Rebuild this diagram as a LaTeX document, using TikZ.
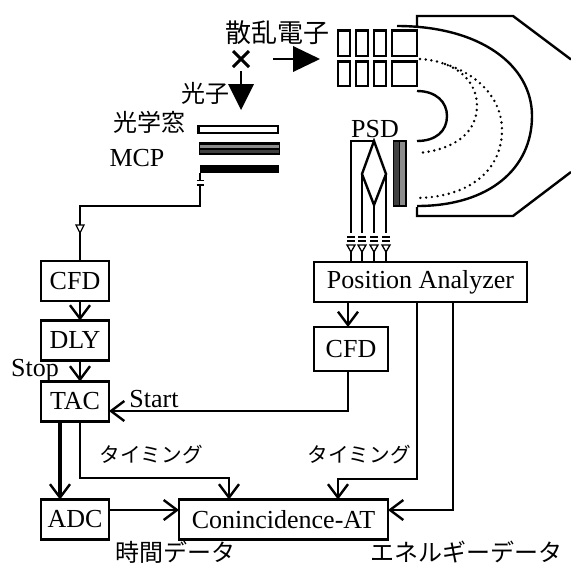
\documentclass[tikz,border=0pt]{standalone}
\usepackage{fontspec}
\setmainfont{Liberation Serif}
\newfontfamily\jpfont{Noto Sans CJK JP}
\usetikzlibrary{arrows.meta}
\definecolor{mcpgray}{gray}{0.55}
\definecolor{mcpdark}{gray}{0.25}
\tikzset{
  wire/.style={line width=1.8pt},
  flow/.style={line width=1.8pt,-{Straight Barb[length=10pt,width=15pt,line width=1.8pt]}},
  box/.style={draw,line width=1.9pt,inner sep=0pt,outer sep=0pt,font=\fontsize{19.5}{20}\selectfont},
  lab/.style={inner sep=0pt,font=\fontsize{19.5}{20}\selectfont},
  jp/.style={inner sep=0pt,font=\jpfont\fontsize{18}{20}\selectfont},
  jpb/.style={inner sep=0pt,font=\jpfont\fontsize{15.5}{18}\selectfont},
  grid cell/.style={draw,line width=1.9pt},
  pulse/.style={draw,line width=1pt,fill=white},
  dots/.style={line width=2pt,line cap=round,dash pattern=on 0pt off 4.3pt}
}
\begin{document}
\begin{tikzpicture}[x=0.75pt,y=-0.75pt]
\useasboundingbox (0,0) rectangle (571,565);
% boxes
\node[box,minimum width=51pt,minimum height=30pt] (cfdA) at (75,281) {CFD};
\node[box,minimum width=51pt,minimum height=30pt] (dly) at (75,340.5) {DLY};
\node[box,minimum width=51pt,minimum height=30pt] (tac) at (75,401.5) {TAC};
\node[box,minimum width=51pt,minimum height=30pt] (adc) at (75,519.5) {ADC};
\node[box,minimum width=156.75pt,minimum height=30pt] (coin) at (283.5,519.5) {Conincidence-AT};
\node[box,minimum width=159.75pt,minimum height=30pt] (pa) at (420.5,282) {Position Analyzer};
\node[box,minimum width=55.5pt,minimum height=33pt] (cfdB) at (351,349) {CFD};
% labels
\node[jp] (l1) at (277,33) {\fontsize{19.5}{20}\selectfont 散乱電子};
\node[jp] (l2) at (205,93) {光子};
\node[jp] (l3) at (149,122) {光学窓};
\node[lab] (l4) at (137,158) {MCP};
\node[lab] (l5) at (375,129) {PSD};
\node[lab] (l6) at (35,371) {Stop};
\node[lab] (l7) at (154,399) {Start};
\node[jpb] (l8) at (151,455) {タイミング};
\node[jpb] (l9) at (359,455) {タイミング};
\node[jp] (l10) at (175,552) {時間データ};
\node[jp] (l11) at (466,552) {エネルギーデータ};
% cross and particle arrows
\draw[line width=2.2pt] (233,51) -- (249,67) (233,67) -- (249,51);
\fill (228,84) -- (254,84) -- (241,110) -- cycle;
\draw[line width=1.8pt] (241,71) -- (241,84);
\fill (293,46) -- (320,59) -- (293,72) -- cycle;
\draw[line width=1.8pt] (273,59) -- (293,59);
% window, MCP, anode
\draw[line width=1.8pt,fill=white] (198.5,126) rectangle (278,133);
\fill[black] (199,142) rectangle (280,155);
\fill[mcpgray] (200,144.5) rectangle (279,148);
\fill[mcpdark] (200,150) rectangle (279,153);
\fill[black] (200,165) rectangle (279,173);
% anode wire
\coordinate (anode) at (200,173);
\coordinate (capA) at (200,180.5);
\coordinate (capB) at (200,185);
\coordinate (bendA) at (200,206);
\coordinate (bendB) at (80,206);
\draw[wire] (anode) -- (capA);
\draw[wire] (capB) -- (bendA) -- (bendB) -- (bendB |- cfdA.north);
\draw[line width=1.1pt] (196.5,180.5) -- (203.5,180.5) (196.5,185) -- (203.5,185);
\draw[pulse] (76,225) -- (84,225) -- (80,233) -- cycle;
% box connectors
\coordinate (xa) at (80,0);
\coordinate (xb) at (60,0);
\coordinate (xc) at (229,478);
\coordinate (xd) at (348,0);
\coordinate (xe) at (417,479);
\coordinate (xf) at (338,479);
\coordinate (xg) at (453,510);
\coordinate (xh) at (348,411);
\coordinate (xi) at (0,510);
\draw[flow] (cfdA.south -| xa) -- (dly.north -| xa);
\draw[flow] (dly.south -| xa) -- (tac.north -| xa);
\draw[flow,line width=2.3pt] (tac.south -| xb) -- (adc.north -| xb);
\draw[flow] (tac.south -| xa) |- (xc) -- (coin.north -| xc);
\draw[flow] (adc.east |- xi) -- (coin.west |- xi);
\draw[flow] (pa.south -| xd) -- (cfdB.north -| xd);
\draw[flow] (cfdB.south -| xd) -- (xh) -- (tac.east |- xh);
\draw[flow] (pa.south -| xe) -- (xe) -- (xf) -- (coin.north -| xf);
\draw[flow] (pa.south -| xg) -- (xg) -- (coin.east |- xg);
% analyser lens grids
\foreach \a/\b in {338/350,356/368,374/386,392/417}{
  \draw[grid cell] (\a,30.5) rectangle (\b,56);
  \draw[grid cell] (\a,61.5) rectangle (\b,86);
}
% analyser housing
\draw[line width=1.8pt] (417,26) -- (417,16) -- (513,16) -- (571,59.5);
\draw[line width=1.8pt] (417,207) -- (417,216) -- (513,216) -- (571,172);
\draw[line width=1.8pt] (397,26) .. controls (480,26) and (532,65) .. (532,116) .. controls (532,168) and (490,206) .. (417,206);
\draw[line width=1.8pt] (417,91) .. controls (436,91) and (447,102) .. (447,116) .. controls (447,131) and (436,141) .. (417,141);
\draw[dots] (420,59) .. controls (455,61) and (477,80) .. (477,106) .. controls (477,132) and (455,150) .. (418,153);
\draw[dots] (445,64) .. controls (480,75) and (502,100) .. (502,130) .. controls (502,170) and (470,197) .. (417,198);
% PSD detector
\fill[black] (392.5,140) rectangle (406.5,207);
\fill[mcpdark] (394,142) rectangle (399,205);
\fill[mcpgray] (400,142) rectangle (405,205);
% PSD wires
\draw[wire] (351,233) -- (351,141) -- (374,141);
\draw[wire] (374,141) -- (386,174) -- (374,205) -- (362,174) -- cycle;
\draw[wire] (362,174) -- (362,233) (386,174) -- (386,233) (374,205) -- (374,233);
\foreach \x in {351,362,374,386}{
  \draw[line width=1.1pt] (\x-4,237) -- (\x+4,237) (\x-4,241) -- (\x+4,241);
  \draw[pulse] (\x-4,245) -- (\x+4,245) -- (\x,252) -- cycle;
  \draw[wire] (\x,252) -- (\x,262);
}
\end{tikzpicture}
\end{document}
